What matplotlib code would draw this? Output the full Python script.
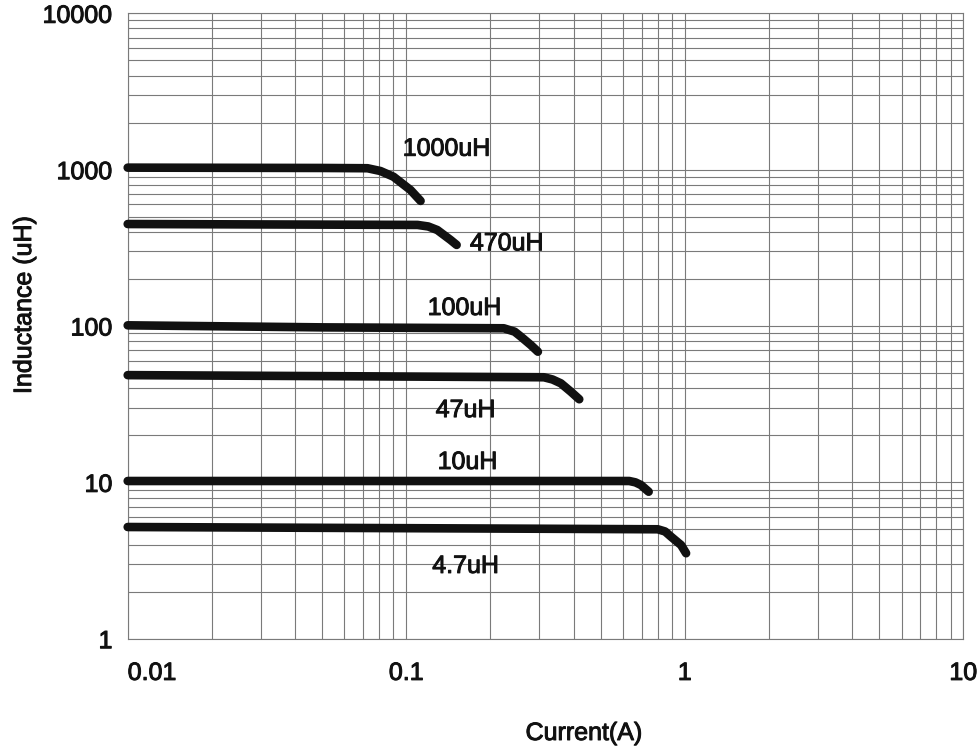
import numpy as np
import matplotlib
matplotlib.use("Agg")
import matplotlib.pyplot as plt
import matplotlib.patheffects as pe
from matplotlib.ticker import FixedLocator, FixedFormatter, LogLocator, NullFormatter

plt.rcParams['font.family'] = ['Liberation Sans', 'DejaVu Sans']

# 数据
x_1000 = [0.01, 0.05, 0.0726, 0.0808, 0.090, 0.1036, 0.1126]
y_1000 = [1030, 1025, 1021, 980, 901, 741, 631]

x_470 = [0.01, 0.05, 0.1098, 0.120, 0.1293, 0.1443, 0.1517]
y_470 = [449, 445, 443, 433, 411, 355, 330]

x_100 = [0.01, 0.05, 0.224, 0.245, 0.258, 0.280, 0.297]
y_100 = [101, 98, 96.7, 92, 85.5, 75.6, 68.5]

x_47 = [0.01, 0.1, 0.312, 0.335, 0.359, 0.390, 0.418]
y_47 = [48.5, 47.5, 47.0, 45.5, 43.0, 38.0, 34.0]

x_10 = [0.01, 0.632, 0.665, 0.696, 0.742]
y_10 = [10.2, 10.2, 10.0, 9.62, 8.71]

x_4p7 = [0.01, 0.3, 0.80, 0.85, 0.893, 0.970, 1.011]
y_4p7 = [5.18, 5.05, 5.01, 4.85, 4.49, 3.97, 3.52]

labels = ['1000uH', '470uH', '100uH', '47uH', '10uH', '4.7uH']
label_x = [0.1397, 0.2297, 0.162, 0.1634, 0.166, 0.1634]
label_y = [1361, 338, 130.4, 29.0, 13.5, 2.92]

x_ticks = [0.01, 0.1, 1, 10]
x_ticklabels = ['0.01', '0.1', '1', '10']
y_ticks = [1, 10, 100, 1000, 10000]
y_ticklabels = ['1', '10', '100', '1000', '10000']

W, H = 979, 752
fig = plt.figure(figsize=(W / 100, H / 100), dpi=100)
ax = fig.add_axes([127.7 / W, 1 - 638.7 / H, (963.3 - 127.7) / W, (638.7 - 13.3) / H])

grid_color = '#7a7a7a'
txt_color = '#111111'
heavy = [pe.withStroke(linewidth=0.7, foreground=txt_color)]

for xs, ys in [(x_1000, y_1000), (x_470, y_470), (x_100, y_100),
               (x_47, y_47), (x_10, y_10), (x_4p7, y_4p7)]:
    ax.plot(xs, ys, color=txt_color, lw=6.2, solid_capstyle='round',
            solid_joinstyle='round', zorder=3, clip_on=False)

for txt, tx, ty in zip(labels, label_x, label_y):
    ax.text(tx, ty, txt, fontsize=18, ha='center', va='center', color=txt_color,
            zorder=4, path_effects=heavy)

ax.set_xscale('log')
ax.set_yscale('log')
ax.set_xlim(0.01, 10)
ax.set_ylim(1, 10000)

ax.xaxis.set_major_locator(FixedLocator(x_ticks))
ax.xaxis.set_major_formatter(FixedFormatter(x_ticklabels))
ax.yaxis.set_major_locator(FixedLocator(y_ticks))
ax.yaxis.set_major_formatter(FixedFormatter(y_ticklabels))
ax.xaxis.set_minor_locator(LogLocator(base=10, subs=np.arange(2, 10)))
ax.yaxis.set_minor_locator(LogLocator(base=10, subs=np.arange(2, 10)))
ax.xaxis.set_minor_formatter(NullFormatter())
ax.yaxis.set_minor_formatter(NullFormatter())

ax.grid(True, which='both', color=grid_color, lw=0.8)
ax.tick_params(which='both', length=0, labelsize=18, colors=txt_color)
ax.tick_params(axis='x', pad=16)
ax.tick_params(axis='y', pad=11)
for sp in ax.spines.values():
    sp.set_color(grid_color)
    sp.set_linewidth(0.8)

xt = ax.get_xticklabels()
xt[0].set_horizontalalignment('left')
for t in xt + ax.get_yticklabels():
    t.set_path_effects(heavy)

fig.text(584 / W, 1 - 733 / H, 'Current(A)', fontsize=18, ha='center', va='center',
         color=txt_color, path_effects=heavy)
fig.text(24 / W, 1 - 305 / H, 'Inductance (uH)', fontsize=18, ha='center', va='center',
         rotation=90, color=txt_color, path_effects=heavy)

fig.savefig('out.png', dpi=100)
